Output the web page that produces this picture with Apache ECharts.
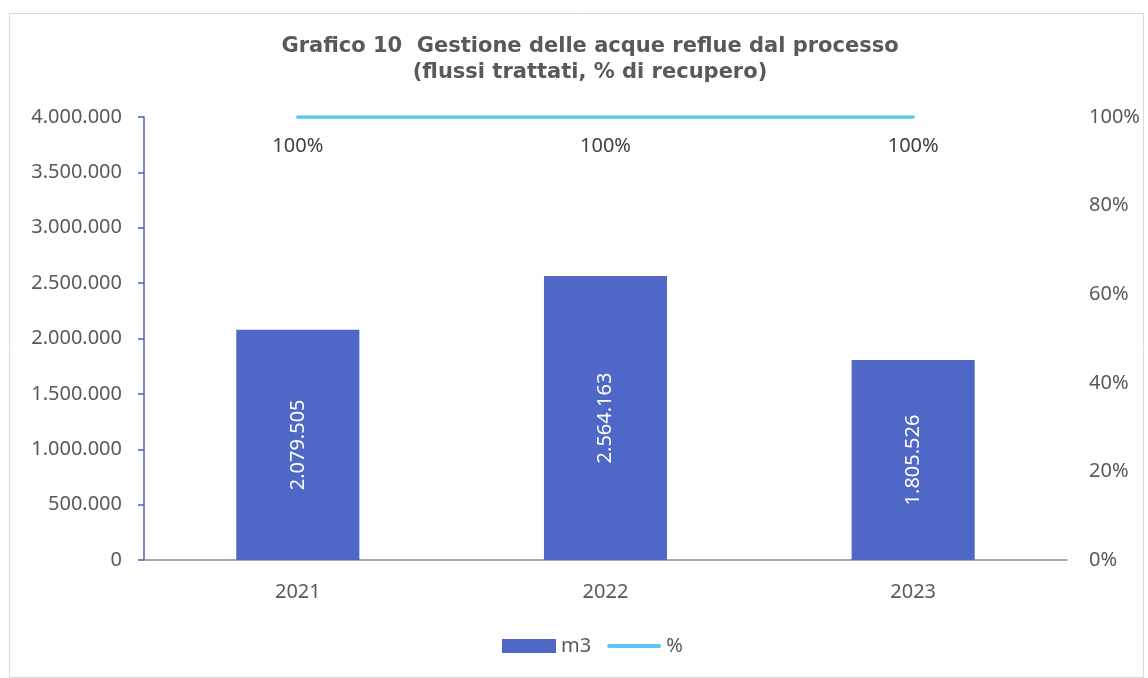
<!DOCTYPE html>
<html>
<head>
<meta charset="utf-8">
<script src="https://cdn.jsdelivr.net/npm/echarts@6/dist/echarts.min.js"></script>
<style>html,body{margin:0;padding:0;background:#fff}#c{width:1148px;height:678px}</style>
</head>
<body>
<div id="c"></div>
<script>
const categories = ['2021', '2022', '2023'];
const m3Values = [2079505, 2564163, 1805526];
const pctValues = [100, 100, 100];
const titleLines = ['Grafico 10  Gestione delle acque reflue dal processo', '(flussi trattati, % di recupero)'];

function itNum(v) {
  return String(Math.round(v)).replace(/\B(?=(\d{3})+(?!\d))/g, '.');
}
const txt = '#595959';
const font = 'Noto Sans';
const chart = echarts.init(document.getElementById('c'), null, {renderer: 'canvas'});
chart.setOption({
  animation: false,
  textStyle: {fontFamily: font},
  graphic: [{
    type: 'rect', left: 7, top: 11, shape: {width: 1134, height: 664},
    style: {fill: 'none', stroke: '#d9d9d9', lineWidth: 1}, silent: true
  }],
  title: {
    text: titleLines.join('\n'),
    left: 585, top: 29, textAlign: 'center',
    textStyle: {fontFamily: 'DejaVu Sans', fontWeight: 'bold', fontSize: 21, color: txt, lineHeight: 26}
  },
  legend: {
    bottom: 17, left: 497,
    itemWidth: 54, itemHeight: 14, itemGap: 16,
    textStyle: {fontSize: 20, color: txt, fontFamily: font},
    data: [
      {name: 'm3', icon: 'rect', itemStyle: {color: '#4f67c7'}},
      {name: '%', icon: 'path://M2,0 H54 A2,2 0 0 1 54,4 H2 A2,2 0 0 1 2,0 Z', itemStyle: {color: '#5bc8f0', opacity: 1}}
    ]
  },
  grid: {left: 144, right: 81, top: 117, bottom: 118},
  xAxis: {
    type: 'category', data: categories,
    axisLine: {lineStyle: {color: '#8c8c8c', width: 1.5}},
    axisTick: {show: false},
    axisLabel: {color: txt, fontSize: 20, margin: 22}
  },
  yAxis: [{
    type: 'value', min: 0, max: 4000000, interval: 500000,
    axisLine: {show: true, lineStyle: {color: '#4a5fc1', width: 1.5}},
    axisTick: {show: true, inside: false, length: 6, lineStyle: {color: '#4a5fc1', width: 1.5}},
    splitLine: {show: false},
    axisLabel: {color: txt, fontSize: 20, margin: 22, formatter: itNum}
  }, {
    type: 'value', min: 0, max: 100, interval: 20,
    axisLine: {show: false}, axisTick: {show: false}, splitLine: {show: false},
    axisLabel: {color: txt, fontSize: 20, margin: 22, formatter: v => v + '%'}
  }],
  series: [{
    name: 'm3', type: 'bar', data: m3Values, barWidth: '40%',
    itemStyle: {color: '#4f67c7'},
    label: {
      show: true, position: 'inside', rotate: 90, color: '#fff', fontSize: 20,
      fontFamily: font, formatter: p => itNum(p.value)
    }
  }, {
    name: '%', type: 'line', yAxisIndex: 1, data: pctValues,
    symbol: 'circle', symbolSize: 1, showSymbol: true,
    lineStyle: {color: '#5bc8f0', width: 3.5, cap: 'round'},
    itemStyle: {color: '#5bc8f0'},
    label: {
      show: true, position: 'bottom', distance: 19, color: '#404040', fontSize: 20,
      fontFamily: font, formatter: p => p.value + '%'
    }
  }]
});
</script>
</body>
</html>
